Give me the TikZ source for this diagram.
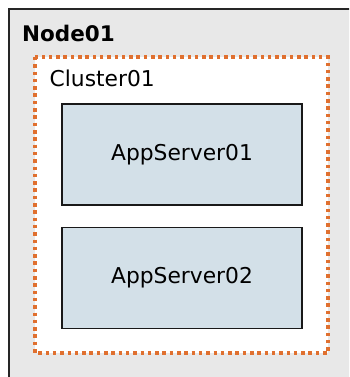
\documentclass[tikz,border=0pt]{standalone}
\usepackage{fontspec}
\setmainfont{DejaVu Sans}
\begin{document}
\begin{tikzpicture}[x=1pt,y=-1pt,
  outerbox/.style={draw=black!85,line width=2pt,fill=black!9},
  clusterbox/.style={draw=orange70,line width=3.3pt,fill=white,dash pattern=on 3.5pt off 3.8pt},
  appbox/.style={draw=black!90,line width=1.5pt,fill=appfill,minimum width=240pt,minimum height=101pt,inner sep=0pt,font=\fontsize{21.8}{26}\selectfont},
  lbl/.style={anchor=west,inner sep=0pt,font=\fontsize{21.8}{26}\selectfont}]
\definecolor{orange70}{HTML}{E0702F}
\definecolor{appfill}{HTML}{D3E0E8}
\useasboundingbox (0,0) rectangle (349,377);
\clip (0,0) rectangle (349,377);
\fill[white] (0,0) rectangle (349,377);
\draw[outerbox] (9,9) rectangle (370,400);
\node[lbl,font=\bfseries\fontsize{21.5}{26}\selectfont] (n1) at (22,33) {Node01};
\draw[clusterbox] (35,57) rectangle (328,353);
\node[lbl] (c1) at (49.5,78) {Cluster01};
\node[appbox] (a1) at (182,154.5) {AppServer01};
\node[appbox] (a2) at (182,278) {AppServer02};
\end{tikzpicture}
\end{document}
